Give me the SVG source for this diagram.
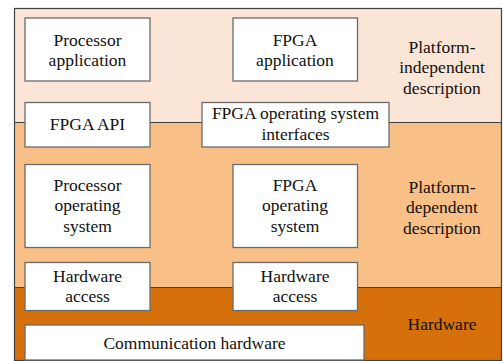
<svg xmlns="http://www.w3.org/2000/svg" width="503" height="361" viewBox="0 0 503 361" font-family="'Liberation Serif', 'DejaVu Serif', serif">
<style>
.box{fill:#ffffff;stroke:#6b6b6b;stroke-width:1.3}
.band{stroke:none}
.sep{stroke:#404040;stroke-width:1.2;fill:none}
text{font-family:'Liberation Serif','DejaVu Serif',serif;font-size:17.5px;fill:#111;text-anchor:middle}
</style>
<rect width="503" height="361" fill="#ffffff"/>
<g id="layers">
<rect class="band" x="14.5" y="8.5" width="487" height="114" fill="#FBE5D6"/>
<rect class="band" x="14.5" y="122.5" width="487" height="165" fill="#F8BF87"/>
<rect class="band" x="14.5" y="287.5" width="487" height="74" fill="#D5700A"/>
<line class="sep" x1="14.5" y1="122.5" x2="501.5" y2="122.5"/>
<line class="sep" x1="14.5" y1="287.5" x2="501.5" y2="287.5"/>
<rect x="14.5" y="8.5" width="487" height="352" fill="none" stroke="#404040" stroke-width="1.2"/>
<text x="442" y="52.5">Platform-</text>
<text x="442" y="73">independent</text>
<text x="442" y="93.5">description</text>
<text x="442" y="192.5">Platform-</text>
<text x="442" y="213">dependent</text>
<text x="442" y="233.5">description</text>
<text x="442" y="329.5">Hardware</text>
</g>
<g id="connectors"></g>
<g id="processor-application">
<rect class="box" x="25" y="18" width="125" height="63"/>
<text x="87.5" y="45.5">Processor</text>
<text x="87.5" y="65.5">application</text>
</g>
<g id="fpga-application">
<rect class="box" x="233" y="18" width="124.5" height="63"/>
<text x="295" y="45.5">FPGA</text>
<text x="295" y="65.5">application</text>
</g>
<g id="fpga-api">
<rect class="box" x="25" y="102.5" width="125" height="44.5"/>
<text x="87.5" y="129.5">FPGA API</text>
</g>
<g id="fpga-os-interfaces">
<rect class="box" x="202" y="102.5" width="187" height="44.5"/>
<text x="295.5" y="119">FPGA operating system</text>
<text x="295.5" y="140">interfaces</text>
</g>
<g id="processor-os">
<rect class="box" x="25" y="164.5" width="125" height="83"/>
<text x="87.5" y="190.5">Processor</text>
<text x="87.5" y="211">operating</text>
<text x="87.5" y="231.5">system</text>
</g>
<g id="fpga-os">
<rect class="box" x="233" y="164.5" width="124.5" height="83"/>
<text x="295" y="190.5">FPGA</text>
<text x="295" y="211">operating</text>
<text x="295" y="231.5">system</text>
</g>
<g id="hardware-access-left">
<rect class="box" x="25" y="262.5" width="125" height="48"/>
<text x="87.5" y="281.5">Hardware</text>
<text x="87.5" y="302">access</text>
</g>
<g id="hardware-access-right">
<rect class="box" x="233" y="262.5" width="124.5" height="48"/>
<text x="295" y="281.5">Hardware</text>
<text x="295" y="302">access</text>
</g>
<g id="communication-hardware">
<rect class="box" x="25" y="325" width="339" height="35"/>
<text x="194.5" y="348.5">Communication hardware</text>
</g>
</svg>
